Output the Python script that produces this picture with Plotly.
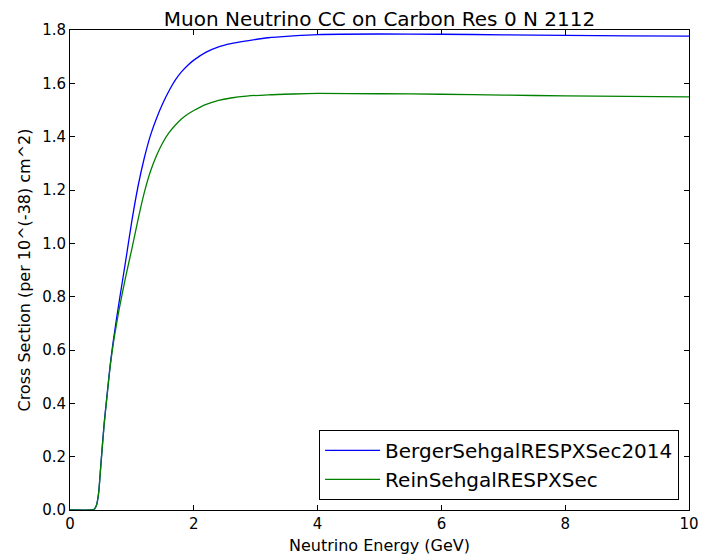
import plotly.graph_objects as go

# neutrino energy grid (GeV)
energy = [0.0, 0.35, 0.38, 0.40, 0.43, 0.46, 0.50, 0.55, 0.60, 0.65, 0.70, 0.75, 0.80,
          0.90, 1.00, 1.10, 1.20, 1.30, 1.40, 1.50, 1.60, 1.70, 1.80, 1.90, 2.00,
          2.20, 2.40, 2.60, 2.85, 3.20, 3.60, 4.00, 5.00, 6.00, 7.00, 8.00, 9.00, 10.0]

# cross sections (per 10^-38 cm^2)
berger_sehgal = [0.0, 0.0, 0.001, 0.005, 0.02, 0.06, 0.175, 0.32, 0.435, 0.545, 0.635, 0.715, 0.79,
                 0.935, 1.085, 1.215, 1.32, 1.405, 1.47, 1.525, 1.572, 1.612, 1.643, 1.667, 1.687,
                 1.717, 1.737, 1.749, 1.759, 1.771, 1.778, 1.783, 1.785, 1.784, 1.782, 1.780, 1.778, 1.777]

rein_sehgal = [0.0, 0.0, 0.001, 0.005, 0.019, 0.058, 0.17, 0.315, 0.43, 0.54, 0.625, 0.695, 0.76,
               0.875, 0.98, 1.09, 1.19, 1.27, 1.33, 1.378, 1.415, 1.443, 1.466, 1.484, 1.498,
               1.521, 1.536, 1.545, 1.552, 1.557, 1.560, 1.562, 1.561, 1.559, 1.556, 1.553, 1.551, 1.549]

series_names = ["BergerSehgalRESPXSec2014", "ReinSehgalRESPXSec"]
series_colors = ["#0000ff", "#008000"]

y_ticks = [0.0, 0.2, 0.4, 0.6, 0.8, 1.0, 1.2, 1.4, 1.6, 1.8]
x_ticks = [0, 2, 4, 6, 8, 10]

fig = go.Figure()

for name, vals, col in zip(series_names, [berger_sehgal, rein_sehgal], series_colors):
    fig.add_trace(
        go.Scatter(
            x=energy,
            y=vals,
            mode="lines",
            name=name,
            line=dict(color=col, width=1.3, shape="spline", smoothing=0.8),
        )
    )

axis_style = dict(
    showline=True,
    linecolor="black",
    linewidth=1,
    mirror="ticks",
    ticks="inside",
    ticklen=5,
    tickcolor="black",
    showgrid=False,
    zeroline=False,
    automargin=False,
    tickfont=dict(size=15, color="black"),
)

fig.update_layout(
    width=703,
    height=556,
    margin=dict(l=70, r=14, t=30, b=46),
    paper_bgcolor="white",
    plot_bgcolor="white",
    font=dict(family="DejaVu Sans", color="black"),
    title=dict(
        text="Muon Neutrino CC on Carbon Res 0 N 2112",
        font=dict(size=20, color="black"),
        x=0.5,
        xref="paper",
        xanchor="center",
        y=1,
        yref="paper",
        yanchor="bottom",
        pad=dict(b=4),
    ),
    xaxis=dict(
        range=[0, 10],
        tickvals=x_ticks,
        title=dict(text="Neutrino Energy (GeV)", font=dict(size=16), standoff=7),
        **axis_style,
    ),
    yaxis=dict(
        range=[0, 1.8],
        tickvals=y_ticks,
        tickformat=".1f",
        title=dict(text="Cross Section (per 10^(-38) cm^2)", font=dict(size=16), standoff=7),
        **axis_style,
    ),
    legend=dict(
        x=0.984,
        y=0.021,
        xanchor="right",
        yanchor="bottom",
        bgcolor="white",
        bordercolor="black",
        borderwidth=1,
        itemwidth=55,
        font=dict(size=20, color="black"),
        tracegroupgap=0,
    ),
    showlegend=True,
)

# drop the browser's default body margin so the figure sits at the page origin
fig.write_html(
    "out.html",
    config={"displayModeBar": False},
    post_script="document.body.style.margin='0';",
)
